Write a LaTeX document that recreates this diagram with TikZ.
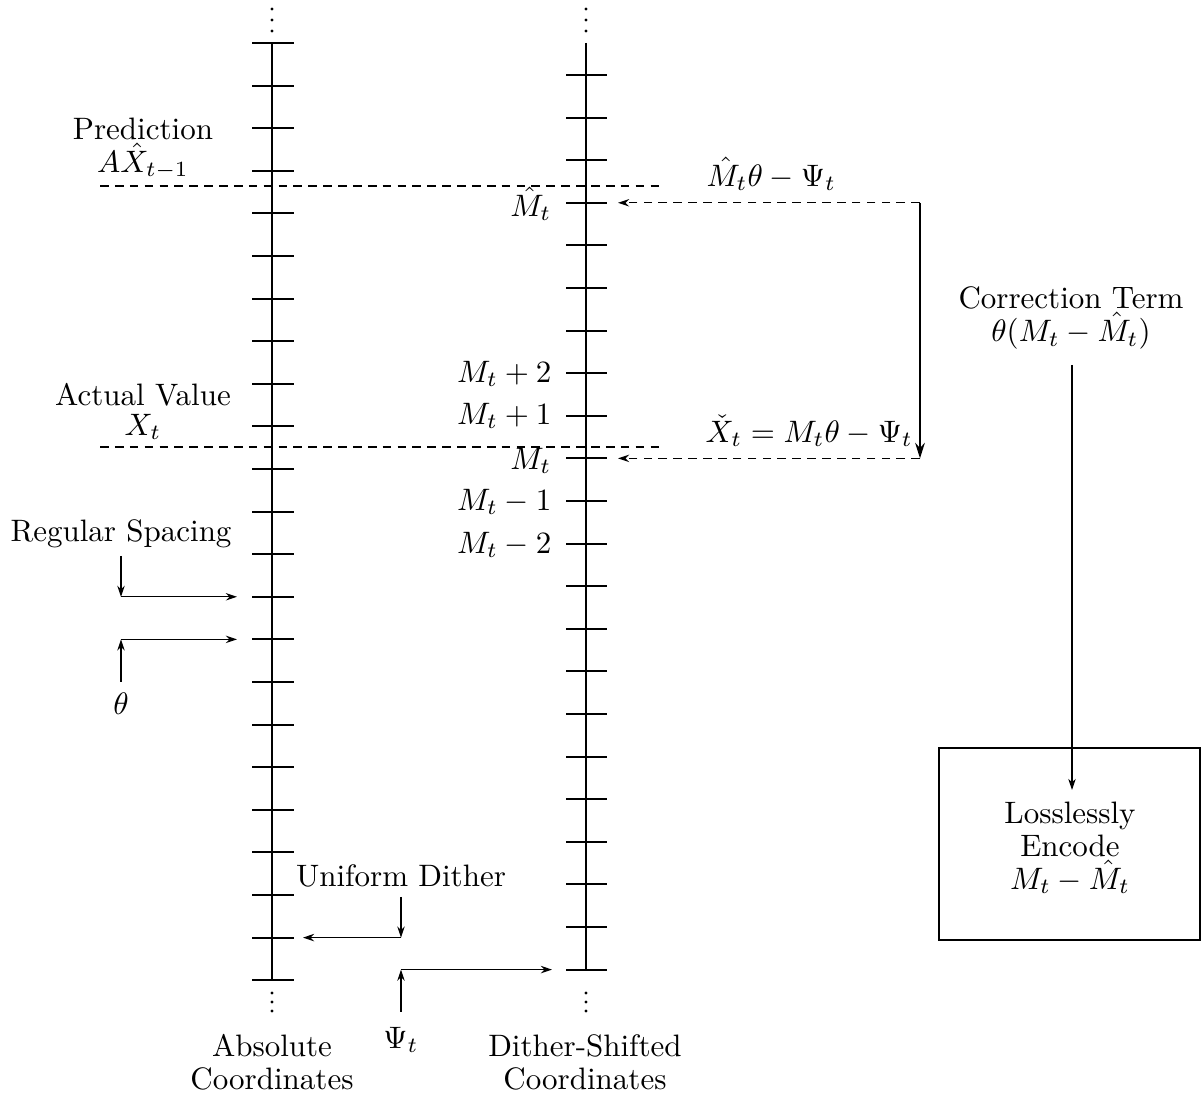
\documentclass[tikz,border=0pt]{standalone}
\usetikzlibrary{arrows.meta}
\begin{document}
\begin{tikzpicture}[x=0.3226pt,y=-0.3226pt,
  axisline/.style={line width=0.45pt},
  tickmark/.style={line width=0.65pt},
  guide/.style={dash pattern=on 2.8pt off 2pt, line width=0.45pt},
  arr/.style={-{Stealth[length=3.6pt,width=2.4pt]}, line width=0.4pt},
  bigarr/.style={-{Stealth[length=5pt,width=3.1pt]}, line width=0.7pt},
  lbl/.style={inner sep=0pt, font={\fontsize{10}{10.6}\selectfont}, align=center},
  every node/.append style={inner sep=0pt}]

\useasboundingbox (0,0) rectangle (1201,1099);

% absolute coordinate axis with regular ticks
\coordinate (Atop) at (272,43);
\coordinate (Abot) at (272,980);
\draw[axisline] (Atop) -- (Abot);
\foreach \i in {0,...,22} {
  \draw[tickmark] (252,{43+42.6*\i}) -- (294,{43+42.6*\i});
}

% dither-shifted axis
\coordinate (Dtop) at (586,43);
\coordinate (Dbot) at (586,970);
\draw[axisline] (Dtop) -- (Dbot);
\foreach \i in {0,...,21} {
  \draw[tickmark] (566,{75+42.6*\i}) -- (607,{75+42.6*\i});
}

% continuation dots
\foreach \y in {9,20,31} {
  \fill (272,\y) circle[radius=0.55pt];
  \fill (586,\y) circle[radius=0.55pt];
}
\foreach \y in {993,1002,1011} {
  \fill (272,\y) circle[radius=0.55pt];
  \fill (586,\y) circle[radius=0.55pt];
}

% tick labels on the shifted axis
\node[anchor=east] (mhat) at (552,204) {$\hat M_t$};
\node[anchor=east] (mp2) at (552,374) {$M_t+2$};
\node[anchor=east] (mp1) at (552,416) {$M_t+1$};
\node[anchor=east] (m0) at (552,461) {$M_t$};
\node[anchor=east] (mm1) at (552,502) {$M_t-1$};
\node[anchor=east] (mm2) at (552,545) {$M_t-2$};

% prediction and actual value levels
\node[lbl] (pred) at (143,129) {Prediction};
\node[lbl] (predv) at (143,161) {$A\hat{X}_{t-1}$};
\coordinate (g1a) at (100,186);
\coordinate (g1b) at (663,186);
\draw[guide] (g1a) -- (g1b);

\node[lbl] (act) at (143,395) {Actual Value};
\node[lbl] (actv) at (143,427) {$X_t$};
\coordinate (g2a) at (100,447);
\coordinate (g2b) at (663,447);
\draw[guide] (g2a) -- (g2b);

% reconstruction points and correction path
\node[anchor=west] (recp) at (706,174) {$\hat M_t\theta - \Psi_t$};
\node[anchor=west] (recx) at (705,431) {$\check X_t = M_t\theta - \Psi_t$};
\coordinate (c1) at (920,202.8);
\coordinate (c2) at (920,458.4);
\coordinate (h1) at (618,202.8);
\coordinate (h2) at (618,458.4);
\draw[guide, arr] (c1) -- (h1);
\draw[guide, arr] (c2) -- (h2);
\draw[bigarr] (c1) -- (c2);

% correction term and encoder
\node[lbl] (corr) at (1071,318) {Correction Term\\$\theta(M_t-\hat M_t)$};
\node[draw, line width=0.6pt, minimum width=84.2pt, minimum height=61.9pt] (enc) at (1069.5,844) {};
\node[lbl] (enctext) at (1070,848) {Losslessly\\Encode\\$M_t-\hat M_t$};
\coordinate (corrout) at (1072,365);
\coordinate (encin) at (1072,790);
\draw[arr, line width=0.35pt] (corrout) -- (encin);

% regular spacing
\node[lbl] (regsp) at (121,534) {Regular Spacing};
\coordinate (rs1) at (121,556);
\coordinate (rs2) at (121,596.8);
\coordinate (rs3) at (237,596.8);
\draw[arr] (rs1) -- (rs2);
\draw[arr] (rs2) -- (rs3);
\node (th) at (121,704) {$\theta$};
\coordinate (t1) at (121,682);
\coordinate (t2) at (121,639.4);
\coordinate (t3) at (237,639.4);
\draw[arr] (t1) -- (t2);
\draw[arr] (t2) -- (t3);

% uniform dither
\node[lbl] (ud) at (401,876) {Uniform Dither};
\coordinate (u1) at (401,897);
\coordinate (u2) at (401,937.6);
\coordinate (u3) at (303,937.6);
\draw[arr] (u1) -- (u2);
\draw[arr] (u2) -- (u3);
\node (psi) at (401,1040) {$\Psi_t$};
\coordinate (p1) at (401,1012);
\coordinate (p2) at (401,969.6);
\coordinate (p3) at (552,969.6);
\draw[arr] (p1) -- (p2);
\draw[arr] (p2) -- (p3);

% axis captions
\node[lbl] (absl) at (272,1062) {Absolute\\Coordinates};
\node[lbl] (dsl) at (585,1062) {Dither-Shifted\\Coordinates};
\end{tikzpicture}
\end{document}
